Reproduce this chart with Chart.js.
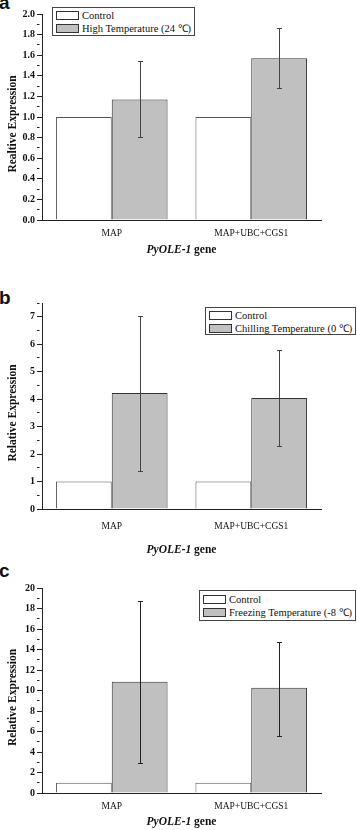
<!DOCTYPE html>
<html>
<head>
<meta charset="utf-8">
<script src="https://cdn.jsdelivr.net/npm/chart.js@4.4.0/dist/chart.umd.min.js"></script>
<style>
    body { margin: 0; width: 357px; height: 830px; position: relative; overflow: hidden; background: #fff; }
    .panel { position: absolute; left: 0; }
    .letter { position: absolute; left: -1px; font-family: "Liberation Sans", Arial, sans-serif; font-weight: bold; font-size: 19px; line-height: 19px; color: #111; }
    .legend { position: absolute; box-sizing: border-box; border: 1px solid #444; background: #fff;
              font-family: "Liberation Serif", "Times New Roman", serif; font-size: 10.5px; line-height: 12px; color: #111; }
    .legend .row { position: absolute; left: 3px; white-space: nowrap; }
    .legend .sw { display: inline-block; box-sizing: border-box; width: 23px; height: 9px; border: 1px solid #333; vertical-align: middle; margin-right: 3px; }
    .legend .txt { vertical-align: middle; }
</style>
</head>
<body>

<div class="letter" style="top:-7px">a</div>
<canvas id="chartA" class="panel" width="357" height="265" style="top:0px"></canvas>
<div id="legendA" class="legend" style="left:52px; top:7px; width:143px; height:29px"></div>

<div class="letter" style="top:288px">b</div>
<canvas id="chartB" class="panel" width="357" height="290" style="top:270px"></canvas>
<div id="legendB" class="legend" style="left:205px; top:307px; width:151px; height:28px"></div>

<div class="letter" style="top:561px">c</div>
<canvas id="chartC" class="panel" width="357" height="270" style="top:560px"></canvas>
<div id="legendC" class="legend" style="left:199px; top:590px; width:157px; height:31px"></div>

<script>
const categories = ['MAP', 'MAP+UBC+CGS1'];

// panel a - high temperature
const controlA = [1.0, 1.0];
const highTemp = [1.17, 1.57];
const highTempLow = [0.81, 1.28];
const highTempHigh = [1.54, 1.86];

// panel b - chilling
const controlB = [1.0, 1.0];
const chilling = [4.22, 4.04];
const chillingLow = [1.40, 2.28];
const chillingHigh = [7.02, 5.79];

// panel c - freezing
const controlC = [1.0, 1.0];
const freezing = [10.86, 10.27];
const freezingLow = [2.92, 5.60];
const freezingHigh = [18.74, 14.75];

const serif = '"Liberation Serif", "Times New Roman", serif';
const grayFill = '#c0c0c0';

// error bars on top of the grey bars
const errorBars = {
    id: 'errorBars',
    afterDatasetsDraw(chart) {
        const ctx = chart.ctx;
        const y = chart.scales.y;
        chart.data.datasets.forEach((ds, i) => {
            if (!ds.errLow) return;
            chart.getDatasetMeta(i).data.forEach((bar, j) => {
                const x = Math.round(bar.x) + 0.5;
                const yLo = Math.round(y.getPixelForValue(ds.errLow[j])) + 0.5;
                const yHi = Math.round(y.getPixelForValue(ds.errHigh[j])) + 0.5;
                ctx.save();
                ctx.strokeStyle = ds.errColor;
                ctx.lineWidth = 1;
                ctx.beginPath();
                ctx.moveTo(x, yLo); ctx.lineTo(x, yHi);
                ctx.moveTo(x - 2.5, yHi); ctx.lineTo(x + 2.5, yHi);
                ctx.moveTo(x - 2.5, yLo); ctx.lineTo(x + 2.5, yLo);
                ctx.stroke();
                ctx.restore();
            });
        });
    }
};

// axis titles (x title mixes bold italic and bold)
const axisTitles = {
    id: 'axisTitles',
    afterDraw(chart, args, opts) {
        const ctx = chart.ctx;
        const area = chart.chartArea;
        ctx.save();
        ctx.fillStyle = '#111';
        ctx.font = 'bold 11.5px ' + serif;
        ctx.textAlign = 'center';
        ctx.textBaseline = 'middle';
        ctx.translate(13, (area.top + area.bottom) / 2 + 7);
        ctx.rotate(-Math.PI / 2);
        ctx.fillText(opts.yText, 0, 0);
        ctx.restore();

        ctx.save();
        ctx.fillStyle = '#111';
        ctx.textBaseline = 'middle';
        ctx.textAlign = 'left';
        const f1 = 'italic bold 11.5px ' + serif;
        const f2 = 'bold 11.5px ' + serif;
        ctx.font = f1;
        const w1 = ctx.measureText('PyOLE-1').width;
        ctx.font = f2;
        const w2 = ctx.measureText(' gene').width;
        const x0 = (area.left + area.right) / 2 - (w1 + w2) / 2;
        const yy = area.bottom + opts.xOffset;
        ctx.font = f1;
        ctx.fillText('PyOLE-1', x0, yy);
        ctx.font = f2;
        ctx.fillText(' gene', x0 + w1, yy);
        ctx.restore();
    }
};

function buildLegend(id, datasets) {
    const box = document.getElementById(id);
    const tops = [1, 14];
    datasets.forEach((ds, i) => {
        const row = document.createElement('div');
        row.className = 'row';
        row.style.top = (tops[i] + (id === 'legendC' ? 1 : 0)) + 'px';
        row.innerHTML = '<span class="sw" style="background:' + ds.backgroundColor + '"></span><span class="txt">' + ds.label + '</span>';
        box.appendChild(row);
    });
}

function makePanel(cfg) {
    const datasets = [
        {
            label: 'Control',
            data: cfg.control,
            backgroundColor: '#ffffff',
            borderColor: '#555555',
            borderWidth: 1,
            categoryPercentage: 0.8,
            barPercentage: 1.0
        },
        {
            label: cfg.treatLabel,
            data: cfg.treat,
            errLow: cfg.low,
            errHigh: cfg.high,
            errColor: cfg.errColor,
            backgroundColor: grayFill,
            borderColor: '#333333',
            borderWidth: 1,
            categoryPercentage: 0.8,
            barPercentage: 1.0
        }
    ];

    new Chart(document.getElementById(cfg.canvas), {
        type: 'bar',
        data: { labels: categories, datasets: datasets },
        options: {
            responsive: false,
            animation: false,
            devicePixelRatio: 1,
            layout: { padding: { top: cfg.padTop, right: 36, left: 0, bottom: 0 } },
            plugins: {
                legend: { display: false },
                tooltip: { enabled: false },
                axisTitles: { yText: cfg.yTitle, xOffset: cfg.titleOffset }
            },
            scales: {
                x: {
                    afterFit: s => { s.height = cfg.xHeight; },
                    border: { color: '#222', width: 1 },
                    grid: { display: false, drawTicks: false },
                    ticks: { padding: cfg.labelPad, color: '#111', font: { family: serif, size: 9.5 } }
                },
                y: {
                    min: 0,
                    max: cfg.yMax,
                    afterFit: s => { s.width = 42; },
                    border: { color: '#222', width: 1 },
                    grid: {
                        drawOnChartArea: false,
                        tickLength: 5,
                        tickColor: '#222',
                        tickBorderDash: c => (c.tick && cfg.isMajor(c.tick.value)) ? [] : [2.5, 10]
                    },
                    ticks: {
                        stepSize: cfg.minor,
                        autoSkip: false,
                        padding: 2,
                        color: '#111',
                        font: { family: serif, size: 10, weight: 'bold' },
                        callback: v => cfg.isMajor(v) ? cfg.fmt(v) : ''
                    }
                }
            }
        },
        plugins: [errorBars, axisTitles]
    });

    buildLegend(cfg.legend, datasets);
}

makePanel({
    canvas: 'chartA', legend: 'legendA',
    control: controlA, treat: highTemp, low: highTempLow, high: highTempHigh,
    treatLabel: 'High Temperature (24 ℃)', errColor: '#444',
    yTitle: 'Realtive Expression',
    yMax: 2.0, minor: 0.1,
    isMajor: v => Math.round(v * 10) % 2 === 0,
    fmt: v => v.toFixed(1),
    padTop: 14, xHeight: 45, labelPad: 8, titleOffset: 30
});

makePanel({
    canvas: 'chartB', legend: 'legendB',
    control: controlB, treat: chilling, low: chillingLow, high: chillingHigh,
    treatLabel: 'Chilling Temperature (0 ℃)', errColor: '#444',
    yTitle: 'Relative Expression',
    yMax: 7.5, minor: 0.5,
    isMajor: v => Math.abs(v - Math.round(v)) < 1e-6,
    fmt: v => String(Math.round(v)),
    padTop: 33, xHeight: 51, labelPad: 12, titleOffset: 41
});

makePanel({
    canvas: 'chartC', legend: 'legendC',
    control: controlC, treat: freezing, low: freezingLow, high: freezingHigh,
    treatLabel: 'Freezing Temperature (-8 ℃)', errColor: '#222',
    yTitle: 'Relative Expression',
    yMax: 20, minor: 1,
    isMajor: v => Math.round(v) % 2 === 0,
    fmt: v => String(Math.round(v)),
    padTop: 28, xHeight: 37, labelPad: 8, titleOffset: 29
});
</script>
</body>
</html>
